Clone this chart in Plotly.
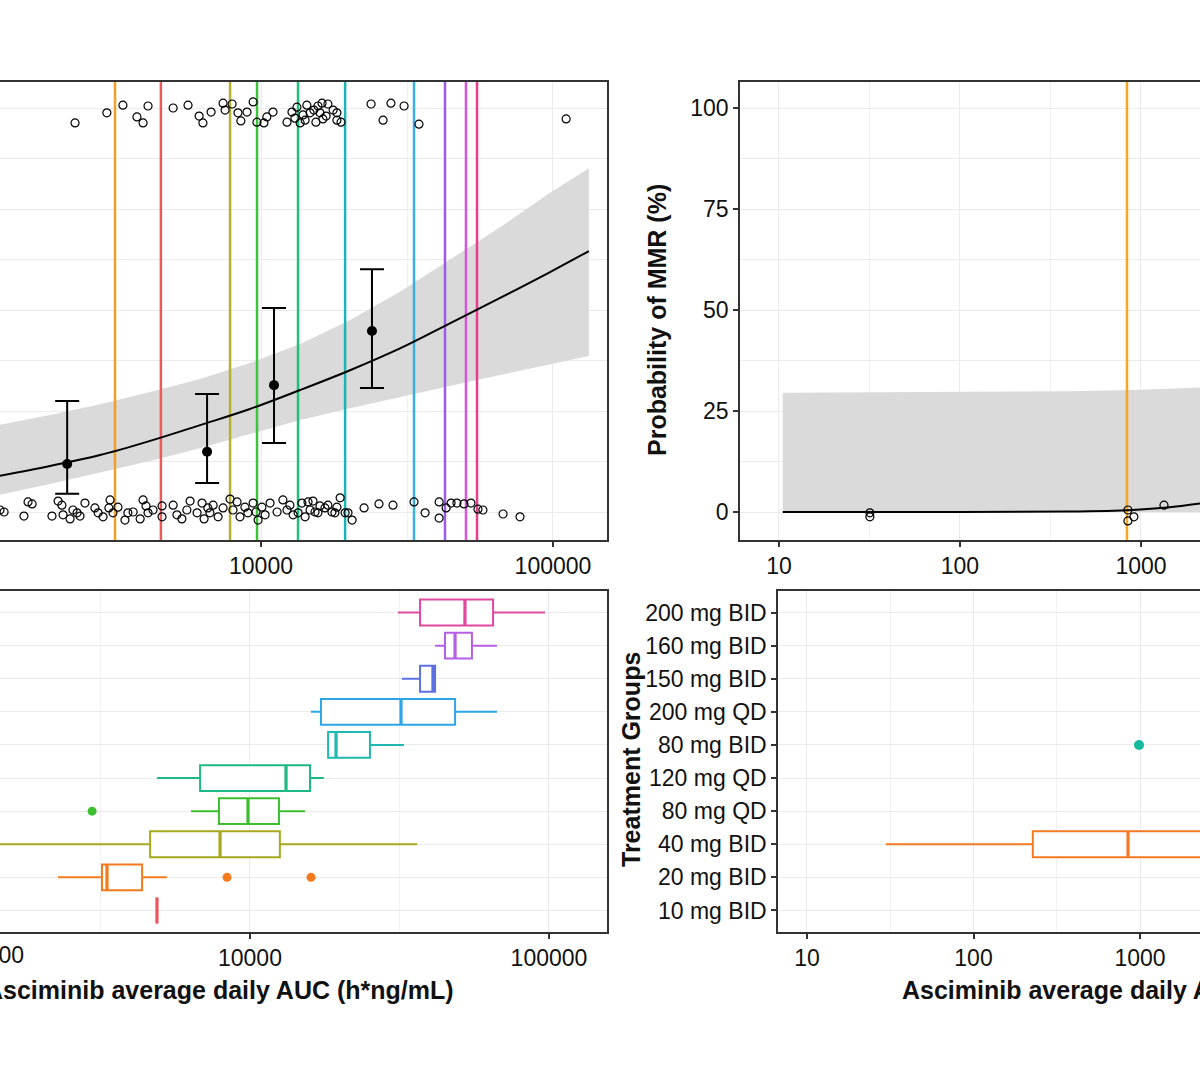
import numpy as np
import plotly.graph_objects as go

FONT = "Liberation Sans, Arial, sans-serif"

# ---------------- data ----------------
groups = ['10 mg BID', '20 mg BID', '40 mg BID', '80 mg QD', '120 mg QD',
          '80 mg BID', '200 mg QD', '150 mg BID', '160 mg BID', '200 mg BID']
group_pos = [1, 2, 3, 4, 5, 6, 7, 8, 9, 10]
box_colors = ['#F0545A', '#F57A1C', '#A8A81E', '#3CBE2E', '#1DB985',
              '#1EB8B0', '#2CA5E5', '#5C6FE3', '#B35FE6', '#E0489F']
vline_colors = ['#F0585C', '#F3A125', '#B4B030', '#3CC43C', '#1DBF7A',
                '#1CB5B5', '#3AAEE8', '#9B5CE8', '#D855D8', '#E83C8C']

# top-left: median exposure per group (vertical lines)
median_auc_lines = [4540, 3162, 7834, 9690, 13390, 19410, 33420, 42670, 50350, 54930]

# top-left: observed responders (MMR=1, jittered) log10 AUC and %
resp_log_auc = [3.363, 3.472, 3.527, 3.575, 3.596, 3.613, 3.699, 3.750, 3.788, 3.801,
                3.829, 3.870, 3.877, 3.901, 3.921, 3.931, 3.952, 3.973, 3.986, 4.010,
                4.020, 4.041, 4.089, 4.106, 4.123, 4.134, 4.144, 4.157, 4.168, 4.181,
                4.188, 4.202, 4.209, 4.212, 4.229, 4.247, 4.260, 4.260, 4.274, 4.116,
                4.151, 4.195, 4.223, 4.377, 4.418, 4.445, 4.490, 4.541, 5.045]
resp_pct = [96.3, 98.8, 100.7, 97.8, 96.3, 100.5, 100.0, 100.7, 98.0, 96.3,
            99.0, 101.2, 99.5, 101.0, 98.8, 96.8, 99.0, 101.5, 96.5, 96.3,
            97.8, 99.0, 96.5, 99.0, 100.2, 96.3, 98.3, 100.7, 98.8, 99.5,
            96.5, 98.8, 101.2, 97.3, 101.0, 99.5, 98.8, 97.0, 96.5, 97.5,
            97.0, 100.5, 98.0, 101.0, 97.0, 101.2, 100.5, 96.0, 97.3]

# top-left: observed non-responders (MMR=0, jittered)
nonresp_log_auc = [3.106, 3.120, 3.188, 3.202, 3.216, 3.284, 3.305, 3.318, 3.322, 3.346,
                   3.356, 3.370, 3.380, 3.397, 3.431, 3.442, 3.459, 3.483, 3.479, 3.493,
                   3.510, 3.534, 3.544, 3.562, 3.586, 3.596, 3.606, 3.613, 3.630, 3.661,
                   3.661, 3.699, 3.712, 3.729, 3.746, 3.757, 3.781, 3.798, 3.805, 3.818,
                   3.825, 3.836, 3.853, 3.870, 3.894, 3.904, 3.918, 3.928, 3.945, 3.955,
                   3.973, 3.983, 3.990, 4.003, 4.014, 4.031, 4.055, 4.075, 4.089, 4.099,
                   4.110, 4.127, 4.140, 4.151, 4.161, 4.168, 4.178, 4.185, 4.195, 4.202,
                   4.219, 4.229, 4.243, 4.253, 4.260, 4.271, 4.288, 4.298, 4.312, 4.353,
                   4.404, 4.452, 4.524, 4.562, 4.610, 4.610, 4.634, 4.651, 4.671, 4.695,
                   4.719, 4.743, 4.760, 4.829, 4.887]
nonresp_pct = [0.5, 0.0, -1.0, 2.5, 2.0, -1.0, 2.7, 1.7, -0.7, -1.7,
               0.5, -0.2, -1.0, 2.2, 1.0, -0.2, -1.2, 3.0, 1.0, -0.2,
               1.2, -2.0, -0.2, 0.0, -1.7, 3.0, 1.5, -0.2, 0.5, 1.5,
               -1.2, 1.7, -0.7, -1.7, 0.5, 2.7, -0.2, 2.2, -1.7, 1.0,
               -0.2, 1.7, -1.2, 1.0, 3.2, 0.5, 2.5, -1.2, 1.2, -0.2,
               2.2, 0.0, -2.0, 1.2, -0.7, 2.2, 0.0, 3.0, 0.5, 1.7,
               -0.7, -0.2, 2.2, -1.2, 2.5, 0.5, 2.7, 0.0, -0.2, 1.5,
               1.0, 1.7, 0.0, -0.2, 1.2, 3.5, -0.2, -0.2, -2.0, 1.0,
               2.0, 1.7, 2.5, -0.2, -1.5, 2.5, 1.0, 2.2, 2.2, 2.0,
               2.2, 0.7, 0.5, -0.5, -1.2]

# top-left: logistic fit and 95% CI band
fit_log_auc = [3.100, 3.277, 3.449, 3.620, 3.791, 3.962, 4.134, 4.305, 4.476,
               4.647, 4.819, 4.990, 5.123]
fit_pct = [8.9, 11.4, 14.1, 17.6, 21.5, 25.5, 30.2, 35.1, 40.5,
           46.7, 53.0, 59.4, 64.6]
fit_ci_hi = [21.5, 24.0, 26.7, 29.7, 32.9, 36.9, 41.6, 47.5, 54.5,
             62.4, 70.5, 79.0, 85.1]
fit_ci_lo = [4.2, 6.9, 9.7, 12.6, 15.8, 19.3, 22.8, 25.7, 28.5,
             31.2, 33.9, 36.6, 38.6]

# top-left: binned observed proportions with 95% CI
bin_auc = [2168, 6535, 11080, 23990]
bin_pct = [11.9, 14.9, 31.4, 44.8]
bin_hi = [27.5, 29.2, 50.5, 60.1]
bin_lo = [4.5, 7.2, 17.1, 30.7]

# top-right panel
tr_median_line = 837
tr_fit_auc = [10.5, 100, 400, 900, 1400, 2300]
tr_fit_pct = [0.0, 0.0, 0.1, 0.5, 1.1, 2.3]
tr_ci_hi = [29.5, 29.7, 29.9, 30.2, 30.5, 30.9]
tr_ci_lo = [0.0, 0.0, 0.0, 0.0, 0.0, 0.0]
tr_obs_auc = [31.8, 31.8, 847, 847, 914, 1340]
tr_obs_pct = [-0.2, -1.2, 0.5, -2.2, -1.2, 1.7]

# bottom-left: box statistics per group (AUC)
bl_low = [4886, 2280, 800, 6355, 4886, 18120, 16000, 32210, 41590, 31260]
bl_q1 = [4886, 3200, 4636, 7875, 6810, 18250, 17270, 37050, 44890, 37050]
bl_med = [4886, 3325, 7943, 9850, 13200, 19400, 31990, 40930, 48500, 52360]
bl_q3 = [4886, 4357, 12590, 12500, 15880, 25190, 48530, 41590, 55250, 65010]
bl_high = [4886, 5270, 36240, 15280, 17660, 32740, 66990, 41590, 66990, 97000]
bl_out_auc = [8380, 16000, 2965]
bl_out_pos = [2, 2, 4]
bl_out_col = ['#F57A1C', '#F57A1C', '#3CBE2E']

# bottom-right
br_box = dict(pos=3, low=29.8, q1=227, med=847, q3=3000, high=6000, color='#F27A22')
br_dot_auc = [986]
br_dot_pos = [6]
br_dot_color = '#14B89C'

# ---------------- figure ----------------
fig = go.Figure()
open_marker = dict(symbol='circle-open', size=8, color='black', line=dict(width=1.2, color='black'))

# Top-left
band_x = [10 ** v for v in fit_log_auc]
fig.add_trace(go.Scatter(x=band_x + band_x[::-1], y=fit_ci_hi + fit_ci_lo[::-1],
                         fill='toself', fillcolor='#DADADA', line=dict(width=0),
                         mode='lines', xaxis='x', yaxis='y', hoverinfo='skip'))
for v, c in zip(median_auc_lines, vline_colors):
    fig.add_trace(go.Scatter(x=[v, v], y=[-20, 120], mode='lines',
                             line=dict(color=c, width=2.5), xaxis='x', yaxis='y'))
fig.add_trace(go.Scatter(x=band_x, y=fit_pct, mode='lines', line=dict(color='black', width=2),
                         line_shape='spline', xaxis='x', yaxis='y'))
for lx, ly in [(resp_log_auc, resp_pct), (nonresp_log_auc, nonresp_pct)]:
    fig.add_trace(go.Scatter(x=[10 ** v for v in lx], y=ly, mode='markers',
                             marker=open_marker, xaxis='x', yaxis='y'))
fig.add_trace(go.Scatter(x=bin_auc, y=bin_pct, mode='markers',
                         marker=dict(size=10, color='black'),
                         error_y=dict(type='data', symmetric=False,
                                      array=[h - p for h, p in zip(bin_hi, bin_pct)],
                                      arrayminus=[p - l for l, p in zip(bin_lo, bin_pct)],
                                      color='black', thickness=2, width=12),
                         xaxis='x', yaxis='y'))

# Top-right
fig.add_trace(go.Scatter(x=tr_fit_auc + tr_fit_auc[::-1], y=tr_ci_hi + tr_ci_lo[::-1],
                         fill='toself', fillcolor='#DADADA', line=dict(width=0),
                         mode='lines', xaxis='x2', yaxis='y2'))
fig.add_trace(go.Scatter(x=[tr_median_line, tr_median_line], y=[-20, 120], mode='lines',
                         line=dict(color='#F5A623', width=2.5), xaxis='x2', yaxis='y2'))
fig.add_trace(go.Scatter(x=tr_fit_auc, y=tr_fit_pct, mode='lines',
                         line=dict(color='black', width=2), line_shape='spline',
                         xaxis='x2', yaxis='y2'))
fig.add_trace(go.Scatter(x=tr_obs_auc, y=tr_obs_pct, mode='markers',
                         marker=open_marker, xaxis='x2', yaxis='y2'))

# Bottom-left boxes
BW = 0.78
for i in range(len(groups)):
    c = box_colors[i]
    fig.add_trace(go.Box(y=[group_pos[i]], q1=[bl_q1[i]], median=[bl_med[i]], q3=[bl_q3[i]],
                         lowerfence=[bl_low[i]], upperfence=[bl_high[i]],
                         orientation='h', width=BW, whiskerwidth=0, boxpoints=False,
                         line=dict(color=c, width=2), fillcolor='white',
                         xaxis='x3', yaxis='y3'))
    fig.add_trace(go.Scatter(x=[bl_med[i], bl_med[i]],
                             y=[group_pos[i] - BW / 2, group_pos[i] + BW / 2],
                             mode='lines', line=dict(color=c, width=3.2),
                             xaxis='x3', yaxis='y3'))
fig.add_trace(go.Scatter(x=bl_out_auc, y=bl_out_pos, mode='markers',
                         marker=dict(size=9, color=bl_out_col), xaxis='x3', yaxis='y3'))

# Bottom-right
fig.add_trace(go.Box(y=[br_box['pos']], q1=[br_box['q1']], median=[br_box['med']],
                     q3=[br_box['q3']], lowerfence=[br_box['low']], upperfence=[br_box['high']],
                     orientation='h', width=BW, whiskerwidth=0, boxpoints=False,
                     line=dict(color=br_box['color'], width=2), fillcolor='white',
                     xaxis='x4', yaxis='y4'))
fig.add_trace(go.Scatter(x=[br_box['med'], br_box['med']],
                         y=[br_box['pos'] - BW / 2, br_box['pos'] + BW / 2],
                         mode='lines', line=dict(color=br_box['color'], width=3.2),
                         xaxis='x4', yaxis='y4'))
fig.add_trace(go.Scatter(x=br_dot_auc, y=br_dot_pos, mode='markers',
                         marker=dict(size=10, color=br_dot_color), xaxis='x4', yaxis='y4'))

# ---------------- axes ----------------
tickfont = dict(family=FONT, size=23, color='#111111')
base = dict(showline=True, linecolor='#333333', linewidth=1.5, gridcolor='#EBEBEB',
            gridwidth=1.2, zeroline=False, tickfont=tickfont, ticks='outside',
            ticklen=5, tickwidth=1.5, tickcolor='#333333')
minor_grid = dict(showgrid=True, gridcolor='#F1F1F1', gridwidth=0.8, ticks='')

xl_ticks = [1000, 10000, 100000]
xr_ticks = [10, 100, 1000]
y_ticks = [0, 25, 50, 75, 100]

yTop = [0.5, 0.92407]
yBot = [0.13704, 0.45278]
xL = [0.0, 0.50583]

fig.update_layout(
    width=1200, height=1080, margin=dict(l=0, r=0, t=0, b=0),
    paper_bgcolor='white', plot_bgcolor='white', showlegend=False, boxmode='overlay',
    font=dict(family=FONT, color='#111111'),
    xaxis=dict(base, type='log', domain=xL, range=[3.106, 5.185], anchor='y', mirror=True,
               tickvals=xl_ticks, ticktext=[str(v) for v in xl_ticks],
               minor=dict(minor_grid, tickvals=[3162.28, 31622.8])),
    yaxis=dict(base, domain=yTop, range=[-6.93, 106.44], anchor='x', side='right',
               ticks='', showticklabels=False, tickvals=y_ticks,
               minor=dict(minor_grid, tickvals=[12.5, 37.5, 62.5, 87.5], gridcolor='#EBEBEB')),
    xaxis2=dict(base, type='log', domain=[0.61667, 1.0], range=[0.785, 3.326], anchor='y2',
                mirror=True, tickvals=xr_ticks, ticktext=[str(v) for v in xr_ticks],
                minor=dict(minor_grid, tickvals=[3.1623, 31.623, 316.23, 3162.3])),
    yaxis2=dict(base, domain=yTop, range=[-6.93, 106.44], anchor='x2', side='left',
                tickvals=y_ticks, ticktext=[str(v) for v in y_ticks],
                minor=dict(minor_grid, tickvals=[12.5, 37.5, 62.5, 87.5], gridcolor='#EBEBEB')),
    xaxis3=dict(base, type='log', domain=xL, range=[3.164, 5.194], anchor='y3', mirror=True,
                tickvals=xl_ticks, ticktext=[str(v) for v in xl_ticks],
                minor=dict(minor_grid, tickvals=[3162.28, 31622.8])),
    yaxis3=dict(base, domain=yBot, range=[0.35, 10.65], anchor='x3', side='right',
                ticks='', showticklabels=False, tickvals=group_pos),
    xaxis4=dict(base, type='log', domain=[0.64833, 1.0], range=[0.826, 3.360], anchor='y4',
                mirror=True, tickvals=xr_ticks, ticktext=[str(v) for v in xr_ticks],
                minor=dict(minor_grid, tickvals=[3.1623, 31.623, 316.23, 3162.3])),
    yaxis4=dict(base, domain=yBot, range=[0.35, 10.65], anchor='x4', side='left',
                tickvals=group_pos, ticktext=groups),
)

title_font = dict(family=FONT, size=25, color='#111111')
W, H = 1200.0, 1080.0
fig.add_annotation(text='1000', x=-1.5 / W, y=1 - 955 / H, xref='paper', yref='paper',
                   showarrow=False, xanchor='center', yanchor='middle', font=tickfont)
fig.add_annotation(text='<b>Asciminib average daily AUC (h*ng/mL)</b>', x=219 / W, y=1 - 990 / H,
                   xref='paper', yref='paper', showarrow=False, xanchor='center',
                   yanchor='middle', font=title_font)
fig.add_annotation(text='<b>Asciminib average daily AUC (h*ng/mL)</b>', x=900 / W, y=1 - 990 / H,
                   xref='paper', yref='paper', showarrow=False, xanchor='left',
                   yanchor='middle', font=title_font)
fig.add_annotation(text='<b>Probability of MMR (%)</b>', x=657 / W, y=1 - 320 / H,
                   xref='paper', yref='paper', showarrow=False, textangle=-90,
                   xanchor='center', yanchor='middle', font=title_font)
fig.add_annotation(text='<b>Treatment Groups</b>', x=631 / W, y=1 - 760 / H,
                   xref='paper', yref='paper', showarrow=False, textangle=-90,
                   xanchor='center', yanchor='middle', font=title_font)

fig.write_html("out.html")
